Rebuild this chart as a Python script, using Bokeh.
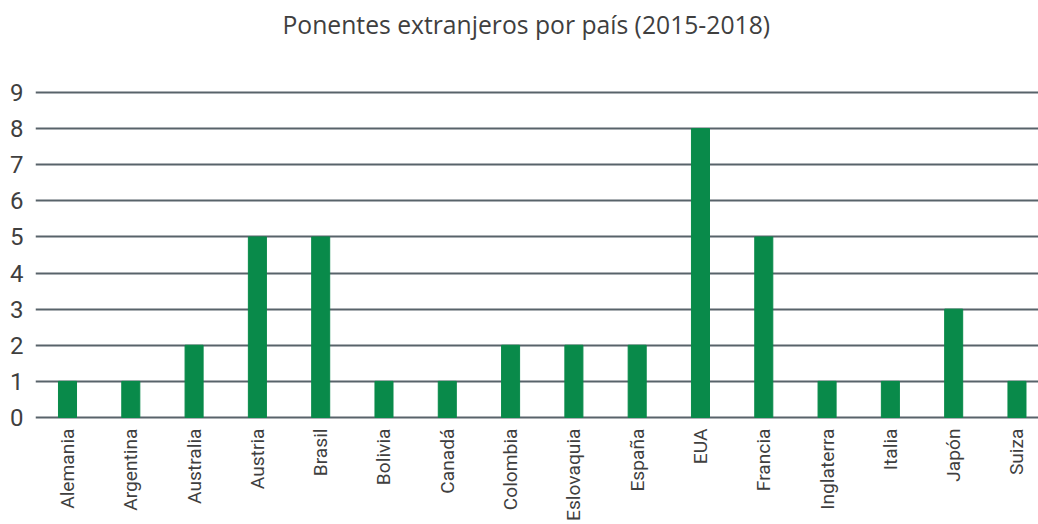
from bokeh.plotting import figure
from bokeh.models import Range1d, FixedTicker, ColumnDataSource, Title
from bokeh.embed import file_html
from bokeh.resources import INLINE
import math

countries = ["Alemania", "Argentina", "Australia", "Austria", "Brasil", "Bolivia",
             "Canadá", "Colombia", "Eslovaquia", "España", "EUA", "Francia",
             "Inglaterra", "Italia", "Japón", "Suiza"]
speakers = [1, 1, 2, 5, 5, 1, 1, 2, 2, 2, 8, 5, 1, 1, 3, 1]
y_ticks = list(range(0, 10))
title_text = "Ponentes extranjeros por país (2015-2018)"

BAR = "#098a4a"
GRID = "#58636a"
TXT = "#3f3f3f"
LBL_FONT = "Roboto"

pos = list(range(len(countries)))
src = ColumnDataSource(dict(x=pos, top=speakers))

p = figure(width=1038, height=524, output_backend="svg", toolbar_location=None,
           x_range=Range1d(-0.5055, 15.34), y_range=Range1d(-0.056, 9.111),
           min_border_left=35, min_border_right=0, min_border_top=0,
           min_border_bottom=105)

p.vbar(x="x", top="top", bottom=0, width=0.285, color=BAR, source=src)

# spacer between title and plot area
p.add_layout(Title(text=" ", text_font_size="1px", standoff=36), "above")

p.title.text = title_text
p.title.align = "left"
p.title.offset = 247
p.title.vertical_align = "top"
p.title.text_font = "Open Sans"
p.title.text_font_size = "24.7px"
p.title.text_font_style = "normal"
p.title.text_color = TXT
p.title.standoff = 14

p.outline_line_color = None
p.background_fill_color = "white"
p.border_fill_color = "white"

p.xgrid.visible = False
p.ygrid.ticker = FixedTicker(ticks=y_ticks)
p.ygrid.grid_line_color = GRID
p.ygrid.grid_line_width = 2.2

ya = p.yaxis[0]
ya.ticker = FixedTicker(ticks=y_ticks)
ya.axis_line_color = None
ya.major_tick_line_color = None
ya.minor_tick_line_color = None
ya.major_tick_out = 0
ya.major_label_standoff = 12
ya.major_label_text_font = LBL_FONT
ya.major_label_text_font_size = "24px"
ya.major_label_text_color = TXT

xa = p.xaxis[0]
xa.ticker = FixedTicker(ticks=pos)
xa.major_label_overrides = {i: c for i, c in enumerate(countries)}
xa.major_label_orientation = math.pi / 2
xa.axis_line_color = None
xa.major_tick_line_color = None
xa.minor_tick_line_color = None
xa.major_tick_out = 0
xa.major_label_standoff = 9
xa.major_label_text_font = LBL_FONT
xa.major_label_text_font_size = "19.2px"
xa.major_label_text_color = TXT

open("out.html", "w").write(file_html(p, INLINE))
